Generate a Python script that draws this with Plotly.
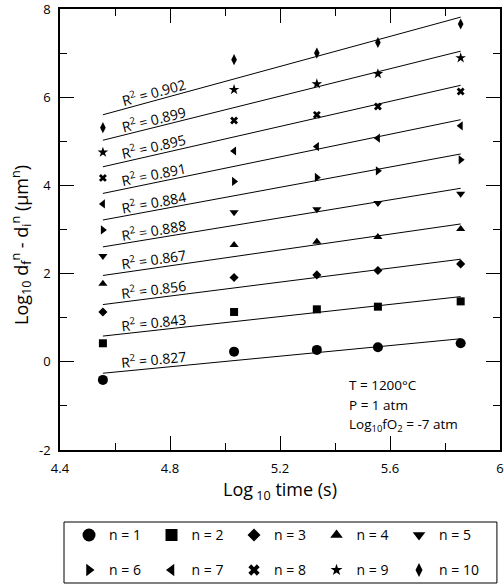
import numpy as np
import plotly.graph_objects as go

# ---- data ----
log_time = [4.556, 5.033, 5.334, 5.556, 5.857]
n_labels = ["n = 1", "n = 2", "n = 3", "n = 4", "n = 5",
            "n = 6", "n = 7", "n = 8", "n = 9", "n = 10"]
y_n1 = [-0.41, 0.23, 0.27, 0.33, 0.42]
y_n2 = [0.42, 1.13, 1.19, 1.25, 1.37]
y_n3 = [1.13, 1.91, 1.97, 2.07, 2.22]
y_n4 = [1.77, 2.65, 2.72, 2.83, 3.01]
y_n5 = [2.40, 3.39, 3.46, 3.60, 3.81]
y_n6 = [2.99, 4.09, 4.18, 4.33, 4.58]
y_n7 = [3.58, 4.78, 4.88, 5.07, 5.35]
y_n8 = [4.17, 5.47, 5.60, 5.79, 6.13]
y_n9 = [4.75, 6.17, 6.30, 6.53, 6.89]
y_n10 = [5.31, 6.85, 7.00, 7.24, 7.66]
r2_values = ["0.827", "0.843", "0.856", "0.867", "0.888",
             "0.884", "0.891", "0.895", "0.899", "0.902"]
x_tick_vals = [4.4, 4.8, 5.2, 5.6, 6.0]
x_tick_text = ["4.4", "4.8", "5.2", "5.6", "6"]
y_tick_vals = [-2, 0, 2, 4, 6, 8]
y_tick_text = ["-2", "0", "2", "4", "6", "8"]
conditions = ["T = 1200°C", "P = 1 atm", "Log<sub>10</sub>fO<sub>2</sub> = -7 atm"]
y_title = "Log<sub>10</sub> d<sub>f</sub><sup>n</sup> - d<sub>i</sub><sup>n</sup> (μm<sup>n</sup>)"

series = [y_n1, y_n2, y_n3, y_n4, y_n5, y_n6, y_n7, y_n8, y_n9, y_n10]
symbols = ["circle", "square", "diamond", "triangle-up", "triangle-down",
           "triangle-right", "triangle-left", "x", "star", "diamond-tall"]
sizes = [10, 8, 7, 8, 8, 8, 8, 7, 8, 8]
legend_sizes = [13, 12, 10, 11, 11, 11, 11, 10, 9, 10]

FONT = "Open Sans"
fig = go.Figure()

# fit lines + R² labels
label_x = 4.74
ann = []
for ys, r2 in zip(series, r2_values):
    slope, icpt = np.polyfit(log_time, ys, 1)
    xs = [log_time[0], log_time[-1]]
    fig.add_trace(go.Scatter(x=xs, y=[slope * v + icpt for v in xs], mode="lines",
                             line=dict(color="black", width=1), showlegend=False,
                             hoverinfo="skip"))
    ang = np.degrees(np.arctan(slope * 44.1 / 275.0))
    ann.append(dict(x=label_x, y=slope * label_x + icpt, xref="x", yref="y",
                    text="R<sup>2</sup> = " + r2, showarrow=False, textangle=-ang,
                    yshift=9, font=dict(family=FONT, size=14, color="black")))

# data markers
for ys, lab, sym, sz in zip(series, n_labels, symbols, sizes):
    fig.add_trace(go.Scatter(x=log_time, y=ys, mode="markers", name=lab, showlegend=False,
                             marker=dict(symbol=sym, size=sz, color="black", line=dict(width=0))))

# legend entries (two rows)
for i, (lab, sym, lsz) in enumerate(zip(n_labels, symbols, legend_sizes)):
    fig.add_trace(go.Scatter(x=[None], y=[None], mode="markers", name=lab,
                             legend="legend" if i < 5 else "legend2",
                             marker=dict(symbol=sym, size=lsz, color="black", line=dict(width=0))))

for i, t in enumerate(conditions):
    ann.append(dict(x=0.652, y=0.1474 - i * 0.0454, xref="paper", yref="paper",
                    xanchor="left", yanchor="middle", text=t, showarrow=False,
                    font=dict(family=FONT, size=13.5, color="black")))

# y-axis title
ann.append(dict(x=-0.0886, y=0.465, xref="paper", yref="paper", xanchor="center",
                yanchor="middle", text=y_title, textangle=-90, showarrow=False,
                font=dict(family=FONT, size=18, color="black")))

leg_common = dict(orientation="h", xanchor="left", yanchor="top",
                  entrywidth=37.5, entrywidthmode="pixels", itemsizing="trace",
                  borderwidth=0, bgcolor="rgba(0,0,0,0)",
                  font=dict(family=FONT, size=14, color="black"), traceorder="normal")

fig.update_layout(
    width=504, height=585,
    margin=dict(l=60, r=4, t=9, b=135, autoexpand=False),
    paper_bgcolor="white", plot_bgcolor="white",
    font=dict(family=FONT, size=13, color="black"),
    annotations=ann,
    shapes=[dict(type="rect", xref="paper", yref="paper", x0=0.0091, x1=0.993,
                 y0=-0.1633, y1=-0.3016, line=dict(color="black", width=1))],
    xaxis=dict(range=[4.4, 6.0], tickvals=x_tick_vals, ticktext=x_tick_text,
               ticks="inside", ticklen=14, tickwidth=1, tickcolor="black",
               minor=dict(ticks="inside", ticklen=7, tickwidth=1, tickcolor="black", dtick=0.2, tick0=4.4),
               showline=True, linecolor="black", linewidth=1.5, mirror="allticks",
               showgrid=False, zeroline=False, ticklabelstandoff=6, ticklabeloverflow="allow",
               title=dict(text="Log<sub> 10</sub> time (s)", font=dict(family=FONT, size=18), standoff=2),
               tickfont=dict(family=FONT, size=13)),
    yaxis=dict(range=[-2, 8], tickvals=y_tick_vals, ticktext=y_tick_text,
               ticks="inside", ticklen=14, tickwidth=1, tickcolor="black",
               minor=dict(ticks="inside", ticklen=7, tickwidth=1, tickcolor="black", dtick=1, tick0=-2),
               showline=True, linecolor="black", linewidth=1.5, mirror="allticks",
               showgrid=False, zeroline=False, ticklabelstandoff=5, ticklabeloverflow="allow",
               tickfont=dict(family=FONT, size=13)),
    legend=dict(x=0.0205, y=-0.1574, **leg_common),
    legend2=dict(x=0.0205, y=-0.2367, **leg_common),
)

fig.write_html("out.html", config={"displayModeBar": False},
               post_script="document.body.style.margin='0';")
